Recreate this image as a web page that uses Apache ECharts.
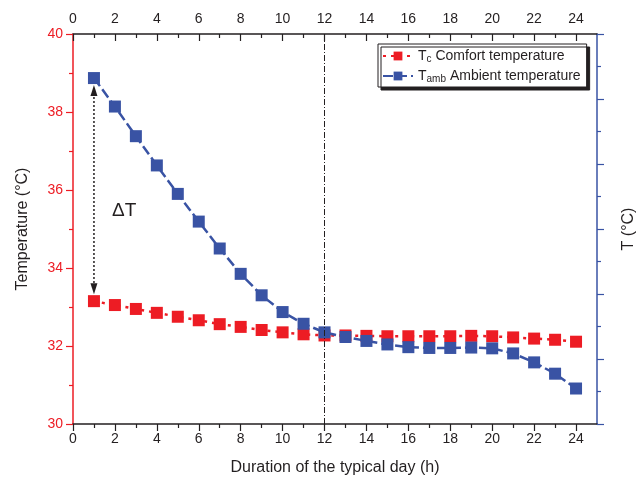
<!DOCTYPE html>
<html>
<head>
<meta charset="utf-8">
<script src="https://cdn.jsdelivr.net/npm/echarts@6/dist/echarts.min.js"></script>
<style>html,body{margin:0;padding:0;background:#fff}#c{width:636px;height:491px}</style>
</head>
<body>
<div id="c"></div>
<script>
const hours = [1,2,3,4,5,6,7,8,9,10,11,12,13,14,15,16,17,18,19,20,21,22,23,24];
const comfort = [33.15,33.05,32.95,32.85,32.75,32.66,32.56,32.49,32.41,32.35,32.30,32.27,32.27,32.26,32.25,32.25,32.25,32.25,32.26,32.25,32.22,32.19,32.16,32.11];
const ambient = [38.87,38.14,37.38,36.63,35.9,35.19,34.5,33.85,33.3,32.87,32.57,32.35,32.23,32.13,32.04,31.97,31.95,31.95,31.96,31.94,31.81,31.58,31.29,30.91];
const xMajor = [0,2,4,6,8,10,12,14,16,18,20,22,24];
const xMinor = [1,3,5,7,9,11,13,15,17,19,21,23];
const dividerHour = 12;
const seriesNames = ['Tc Comfort temperature','Tamb Ambient temperature'];

const RED = '#ed1c24', BLUE = '#3953a4', INK = '#231f20';
const FONT = 'Arial, "Liberation Sans", sans-serif';
const chart = echarts.init(document.getElementById('c'));

function xAx(pos, major, inside) {
  return {
    type: 'value', position: pos, min: 0, max: 25, gridIndex: 0,
    axisLine: {show: major, onZero: false, lineStyle: {color: INK, width: 1.5}},
    axisTick: {show: true, inside: inside, length: major ? 7 : 4, customValues: major ? xMajor : xMinor, lineStyle: {color: INK, width: 1.2}},
    axisLabel: {show: major, customValues: xMajor, color: INK, fontSize: 14, fontFamily: FONT, margin: 8},
    splitLine: {show: false}
  };
}
const xb = xAx('bottom', true, false);
xb.name = 'Duration of the typical day (h)';
xb.nameLocation = 'middle'; xb.nameGap = 36;
xb.nameTextStyle = {color: INK, fontSize: 16, fontFamily: FONT};
const xt = xAx('top', true, true);
xt.axisLabel.margin = 8;

chart.setOption({
  animation: false,
  backgroundColor: '#fff',
  grid: {left: 73, right: 39, top: 34, bottom: 67, containLabel: false, outerBoundsMode: 'none'},
  legend: {
    orient: 'vertical', left: 378, top: 44,
    backgroundColor: '#fff', borderColor: INK, borderWidth: 1,
    shadowColor: INK, shadowOffsetX: 3, shadowOffsetY: 3, shadowBlur: 0,
    padding: [5, 6, 3, 4], itemGap: 5, itemWidth: 30, itemHeight: 11,
    data: seriesNames,
    formatter: function (n) {
      if (n === seriesNames[0]) return '{m|T}{s|c}{m| Comfort temperature}';
      return '{m|T}{s|amb}{m| Ambient temperature}';
    },
    textStyle: {
      color: INK, fontFamily: FONT,
      rich: {
        m: {fontSize: 14, fontFamily: FONT, color: INK},
        s: {fontSize: 10, fontFamily: FONT, color: INK, verticalAlign: 'bottom', padding: [6, 0, 0, 0]}
      }
    }
  },
  xAxis: [xb, xAx('bottom', false, false), xt, xAx('top', false, true)],
  yAxis: [
    {
      type: 'value', position: 'left', min: 30, max: 40, interval: 2,
      name: 'Temperature (°C)', nameLocation: 'middle', nameGap: 42, nameRotate: 90,
      nameTextStyle: {color: INK, fontSize: 16, fontFamily: FONT},
      axisLine: {show: true, onZero: false, lineStyle: {color: RED, width: 1.5}},
      axisTick: {show: true, length: 7, lineStyle: {color: RED, width: 1.2}},
      minorTick: {show: true, splitNumber: 2, length: 4, lineStyle: {color: RED, width: 1.2}},
      axisLabel: {color: RED, fontSize: 14, fontFamily: FONT, margin: 10},
      splitLine: {show: false}
    },
    {
      type: 'value', position: 'right', min: 0, max: 6, interval: 1,
      name: 'T (°C)', nameLocation: 'middle', nameGap: 24, nameRotate: 90,
      nameTextStyle: {color: INK, fontSize: 16, fontFamily: FONT},
      axisLine: {show: true, onZero: false, lineStyle: {color: BLUE, width: 1.5}},
      axisTick: {show: true, length: 7, lineStyle: {color: BLUE, width: 1.2}},
      minorTick: {show: true, splitNumber: 2, length: 4, lineStyle: {color: BLUE, width: 1.2}},
      axisLabel: {show: false},
      splitLine: {show: false}
    }
  ],
  series: [
    {
      name: seriesNames[0], type: 'line', xAxisIndex: 0, yAxisIndex: 0,
      data: hours.map((h, i) => [h, comfort[i]]),
      symbol: 'rect', symbolSize: 12,
      itemStyle: {color: RED},
      lineStyle: {color: RED, width: 2.5, type: [3, 5]},
      z: 3,
      markLine: {
        silent: true, symbol: 'none', label: {show: false},
        lineStyle: {color: INK, width: 1, type: [6, 2, 1, 2]},
        data: [{xAxis: dividerHour}]
      }
    },
    {
      name: seriesNames[1], type: 'line', xAxisIndex: 0, yAxisIndex: 0,
      data: hours.map((h, i) => [h, ambient[i]]),
      symbol: 'rect', symbolSize: 12,
      itemStyle: {color: BLUE},
      lineStyle: {color: BLUE, width: 2.5, type: [10, 4]},
      z: 4
    }
  ]
});

// Delta-T arrow between the first two markers, placed via the chart's scales
const pTop = chart.convertToPixel({xAxisIndex: 0, yAxisIndex: 0}, [hours[0], ambient[0]]);
const pBot = chart.convertToPixel({xAxisIndex: 0, yAxisIndex: 0}, [hours[0], comfort[0]]);
const y1 = pTop[1] + 7, y2 = pBot[1] - 7, ax = pTop[0];
chart.setOption({
  graphic: [
    {type: 'line', shape: {x1: ax, y1: y1 + 8, x2: ax, y2: y2 - 8}, style: {stroke: INK, lineWidth: 1.5, lineDash: [2, 2]}, z: 10},
    {type: 'polygon', shape: {points: [[ax, y1], [ax - 3.5, y1 + 11], [ax + 3.5, y1 + 11]]}, style: {fill: INK}, z: 10},
    {type: 'polygon', shape: {points: [[ax, y2], [ax - 3.5, y2 - 11], [ax + 3.5, y2 - 11]]}, style: {fill: INK}, z: 10},
    {type: 'text', left: 112, top: 201, style: {text: 'ΔT', fill: INK, fontSize: 19, fontFamily: FONT}, z: 10}
  ]
});
</script>
</body>
</html>
